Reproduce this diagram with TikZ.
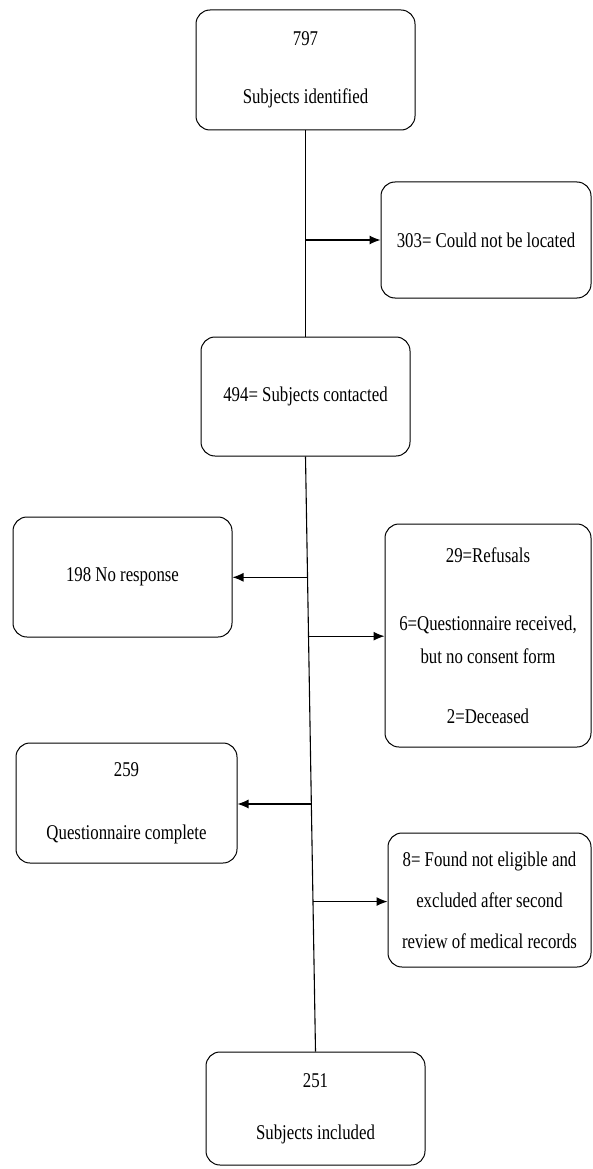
\documentclass[tikz,border=0pt]{standalone}
\usepackage{fontspec}
\setmainfont[FakeStretch=0.8]{Liberation Serif}
\usetikzlibrary{arrows.meta}

\tikzset{
  flowbox/.style={rectangle, rounded corners=14pt, draw, line width=1pt,
    align=center, inner sep=0pt, font=\fontsize{21}{25}\selectfont},
}

\begin{document}
\begin{tikzpicture}[x=1pt,y=-1pt,>={Latex[length=11pt,width=9pt]},line width=1.1pt]
  \useasboundingbox (0,0) rectangle (592,1169);
  \node at (305.5,70) (ident) [flowbox,minimum width=219pt,minimum height=120pt] {797\\[33pt]Subjects identified};
  \node at (486,240) (notloc) [flowbox,minimum width=210pt,minimum height=116pt] {303= Could not be located};
  \node at (305.5,396.5) (contact) [flowbox,minimum width=209pt,minimum height=119pt] {494= Subjects contacted};
  \node at (122.5,577) (noresp) [flowbox,minimum width=219pt,minimum height=120pt] {198 No response};
  \node at (488,635.5) (refus) [flowbox,minimum width=206pt,minimum height=223pt] {29=Refusals\\[43pt]6=Questionnaire received,\\[8pt]but no consent form\\[35pt]2=Deceased};
  \node at (126.5,803) (qcomp) [flowbox,minimum width=221pt,minimum height=120pt] {259\\[38pt]Questionnaire complete};
  \node at (489.5,900) (notelig) [flowbox,minimum width=203pt,minimum height=134pt] {8= Found not eligible and\\[16pt]excluded after second\\[16pt]review of medical records};
  \node at (315.5,1108.5) (incl) [flowbox,minimum width=219pt,minimum height=113pt] {251\\[27pt]Subjects included};
  % main line
  \draw (ident) -- (contact);
  \draw[->] (ident.south |- notloc) -- (notloc);
  \draw (contact.south) -- (incl.north)
    coordinate[pos=.203] (b1)
    coordinate[pos=.302] (b2)
    coordinate[pos=.584] (b3)
    coordinate[pos=.748] (b4);
  % side arrows
  \draw[->] (b1) -- (b1 -| noresp.east);
  \draw[->] (b2) -- (b2 -| refus.west);
  \draw[->] (b3) -- (b3 -| qcomp.east);
  \draw[->] (b4) -- (b4 -| notelig.west);
\end{tikzpicture}
\end{document}
